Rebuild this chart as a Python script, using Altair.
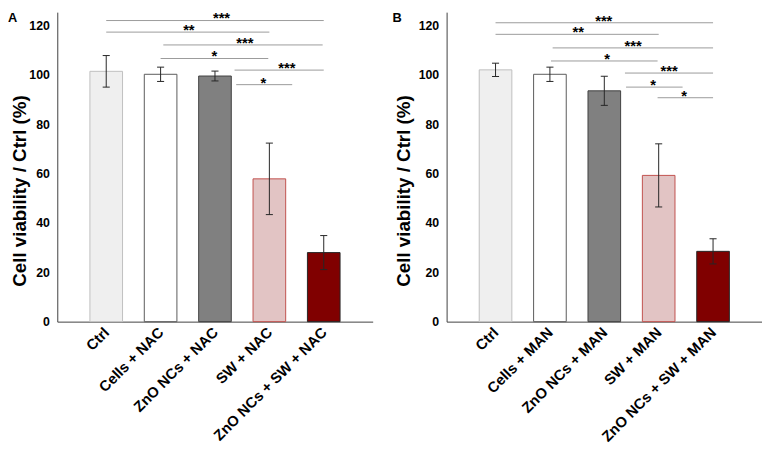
import json
import altair as alt
import pandas as pd

FONT = "Liberation Sans"

# ---- data ----
positions = [1, 2, 3, 4, 5]
cats_A = ["Ctrl", "Cells + NAC", "ZnO NCs + NAC", "SW + NAC", "ZnO NCs + SW + NAC"]
cats_B = ["Ctrl", "Cells + MAN", "ZnO NCs + MAN", "SW + MAN", "ZnO NCs + SW + MAN"]

mean_A = [101.5, 100.3, 99.6, 57.9, 28.0]
sd_A = [6.4, 2.9, 2.0, 14.5, 6.9]
mean_B = [102.1, 100.3, 93.6, 59.3, 28.5]
sd_B = [2.7, 2.9, 5.9, 12.8, 5.1]

fills = ["#efefef", "#ffffff", "#808080", "#e2c4c4", "#800000"]
strokes = ["#bfbfbf", "#595959", "#404040", "#c0504d", "#262626"]

# significance brackets (start, end in category positions, height, label, label position)
sigA_x1 = [1.0, 1.0, 2.05, 2.0, 3.36, 3.39]
sigA_x2 = [5.0, 4.0, 4.98, 3.98, 5.0, 4.42]
sigA_y = [122.1, 117.4, 112.2, 106.7, 102.0, 96.1]
sigA_lab = ["***", "**", "***", "*", "***", "*"]
sigA_lx = [3.12, 2.52, 3.55, 2.99, 4.32, 3.89]

sigB_x1 = [1.0, 1.0, 2.05, 2.02, 3.38, 3.4, 3.98]
sigB_x2 = [5.0, 4.0, 5.0, 3.98, 5.0, 4.44, 5.0]
sigB_y = [121.2, 116.5, 111.0, 105.7, 100.8, 95.1, 90.8]
sigB_lab = ["***", "**", "***", "*", "***", "*", "*"]
sigB_lx = [2.99, 2.52, 3.53, 3.05, 4.19, 3.9, 4.47]

y_ticks = [0, 20, 40, 60, 80, 100, 120]


def panel(cats, means, sds, sx1, sx2, sy, slab, slx, letter, letter_x):
    df = pd.DataFrame({"pos": positions, "cat": cats, "mean": means, "sd": sds})
    sig = pd.DataFrame({"x1": sx1, "x2": sx2, "y": sy, "lab": slab, "lx": slx})
    xscale = alt.Scale(domain=[0.1, 5.9], nice=False, zero=False)
    yscale = alt.Scale(domain=[0, 125.5], nice=False, zero=True)
    label_expr = json.dumps(cats) + "[datum.value - 1]"

    base = alt.Chart(df).transform_calculate(
        lo="datum.mean - datum.sd",
        hi="datum.mean + datum.sd",
        z="0",
        b0="datum.pos - 0.3",
        b1="datum.pos + 0.3",
        c0="datum.pos - 0.065",
        c1="datum.pos + 0.065",
    )

    bars = base.mark_bar(strokeWidth=1).encode(
        x=alt.X(
            "b0:Q",
            scale=xscale,
            axis=alt.Axis(
                values=positions,
                labelExpr=label_expr,
                labelAngle=-45,
                labelAlign="right",
                labelBaseline="middle",
                labelPadding=8,
                labelOverlap=False,
                labelFlush=False,
                labelFont=FONT,
                labelFontSize=15,
                labelFontWeight="bold",
                labelColor="black",
                ticks=False,
                grid=False,
                domainColor="#404040",
                title="",
            ),
        ),
        x2="b1:Q",
        y=alt.Y(
            "mean:Q",
            scale=yscale,
            axis=alt.Axis(
                values=y_ticks,
                ticks=False,
                grid=False,
                domainColor="#404040",
                labelFont=FONT,
                labelFontSize=12.5,
                labelFontWeight="bold",
                labelColor="black",
                labelPadding=8,
                title="Cell viability / Ctrl (%)",
                titleFont=FONT,
                titleFontSize=19,
                titleFontWeight="bold",
                titleColor="black",
                titleAngle=270,
                titleAlign="center",
                titleBaseline="top",
                titleX=letter_x + 2.5,
                titleY=181,
            ),
        ),
        y2="z:Q",
        color=alt.Color("pos:N", scale=alt.Scale(domain=positions, range=fills), legend=None),
        stroke=alt.Stroke("pos:N", scale=alt.Scale(domain=positions, range=strokes), legend=None),
    )

    err = base.mark_rule(color="#262626", strokeWidth=1).encode(
        x=alt.X("pos:Q"),
        y=alt.Y("lo:Q"),
        y2="hi:Q",
    )
    cap_hi = base.mark_rule(color="#262626", strokeWidth=1).encode(
        x=alt.X("c0:Q"),
        x2="c1:Q",
        y=alt.Y("hi:Q"),
    )
    cap_lo = base.mark_rule(color="#262626", strokeWidth=1).encode(
        x=alt.X("c0:Q"),
        x2="c1:Q",
        y=alt.Y("lo:Q"),
    )

    lines = alt.Chart(sig).mark_rule(color="#9a9a9a", strokeWidth=1).encode(
        x=alt.X("x1:Q"),
        x2="x2:Q",
        y=alt.Y("y:Q"),
    )
    stars = alt.Chart(sig).mark_text(
        font=FONT, fontSize=15, fontWeight="bold", baseline="alphabetic", dy=3, color="black"
    ).encode(
        x=alt.X("lx:Q"),
        y=alt.Y("y:Q"),
        text="lab:N",
    )

    letter_t = alt.Chart(pd.DataFrame({"t": [letter]})).mark_text(
        font=FONT, fontSize=13, fontWeight="bold", align="left", baseline="top", color="black"
    ).encode(x=alt.value(letter_x), y=alt.value(0), text="t:N")

    return alt.layer(bars, err, cap_hi, cap_lo, lines, stars, letter_t).properties(
        width=320, height=314
    )


pA = panel(cats_A, mean_A, sd_A, sigA_x1, sigA_x2, sigA_y, sigA_lab, sigA_lx, "A", -50)
pB = panel(cats_B, mean_B, sd_B, sigB_x1, sigB_x2, sigB_y, sigB_lab, sigB_lx, "B", -55)

chart = (
    alt.hconcat(pA, pB, spacing=20)
    .resolve_scale(color="independent", stroke="independent")
    .properties(padding={"left": 0, "top": 0, "right": 0, "bottom": 0})
    .configure_view(stroke=None)
)

chart.save("out.html", embed_options={"renderer": "svg", "actions": False})
